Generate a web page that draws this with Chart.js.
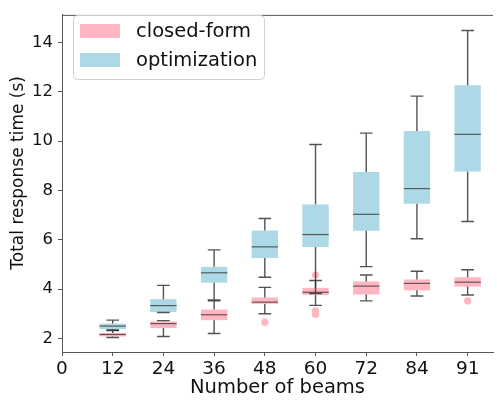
<!DOCTYPE html>
<html>
<head>
<meta charset="utf-8">
<script src="https://cdn.jsdelivr.net/npm/chart.js@4.4.1/dist/chart.umd.min.js"></script>
<style>
  html, body { margin: 0; padding: 0; background: #ffffff; }
  #wrap { width: 497px; height: 403px; }
</style>
</head>
<body>
<div id="wrap"><canvas id="myChart" width="497" height="403"></canvas></div>
<script>
// x tick labels (position 0 is the empty origin), and the beam counts
const xLabels = ["0", "12", "24", "36", "48", "60", "72", "84", "91"];
const beams = [12, 24, 36, 48, 60, 72, 84, 91];

// closed-form: whisker ends, quartiles, median
const cfLow = [2.04, 2.08, 2.2, 3.0, 3.34, 3.52, 3.72, 3.76];
const cfQ1 = [2.08, 2.42, 2.74, 3.4, 3.76, 3.78, 3.95, 4.1];
const cfMed = [2.16, 2.6, 2.96, 3.47, 3.87, 4.12, 4.23, 4.28];
const cfQ3 = [2.22, 2.69, 3.17, 3.66, 4.05, 4.31, 4.39, 4.48];
const cfHigh = [2.32, 2.72, 3.52, 4.07, 4.35, 4.57, 4.72, 4.78];
const cfOutBeam = [48, 60, 60, 60, 91];
const cfOutVal = [2.66, 4.57, 3.12, 2.97, 3.52];

// optimization
const opLow = [2.34, 3.05, 3.56, 4.48, 3.82, 4.91, 6.04, 6.74];
const opQ1 = [2.38, 3.07, 4.26, 5.26, 5.7, 6.36, 7.46, 8.76];
const opMed = [2.5, 3.33, 4.66, 5.71, 6.21, 7.03, 8.07, 10.27];
const opQ3 = [2.6, 3.59, 4.9, 6.37, 7.43, 8.74, 10.41, 12.26];
const opHigh = [2.74, 4.15, 5.59, 6.86, 9.86, 10.32, 11.82, 14.48];

const pink = "#ffb6c1";
const blue = "#add8e6";
const FONT = "'DejaVu Sans', sans-serif";
const yTitle = "Total response time (s)";

function pos(b) {
  return beams.indexOf(b) + 1;
}

function boxData(q1, q3) {
  return beams.map(function (b, i) {
    return { x: pos(b), y: [q1[i], q3[i]] };
  });
}

const series = [
  { low: cfLow, med: cfMed, q1: cfQ1, q3: cfQ3, high: cfHigh },
  { low: opLow, med: opMed, q1: opQ1, q3: opQ3, high: opHigh },
];

// whiskers, caps and medians, placed with the chart's own scales
const whiskerPlugin = {
  id: "whiskers",
  afterDatasetsDraw(chart) {
    const ctx = chart.ctx;
    const xs = chart.scales.x;
    const ys = chart.scales.y;
    ctx.save();
    series.forEach(function (s) {
      beams.forEach(function (b, i) {
        const p = pos(b);
        const cx = xs.getPixelForValue(p);
        const capL = xs.getPixelForValue(p - 0.125);
        const capR = xs.getPixelForValue(p + 0.125);
        const boxL = xs.getPixelForValue(p - 0.26);
        const boxR = xs.getPixelForValue(p + 0.26);
        ctx.strokeStyle = "rgba(40,40,40,0.8)";
        ctx.lineWidth = 1.4;
        ctx.beginPath();
        ctx.moveTo(cx, ys.getPixelForValue(s.low[i]));
        ctx.lineTo(cx, ys.getPixelForValue(s.q1[i]));
        ctx.moveTo(cx, ys.getPixelForValue(s.q3[i]));
        ctx.lineTo(cx, ys.getPixelForValue(s.high[i]));
        ctx.moveTo(capL, ys.getPixelForValue(s.low[i]));
        ctx.lineTo(capR, ys.getPixelForValue(s.low[i]));
        ctx.moveTo(capL, ys.getPixelForValue(s.high[i]));
        ctx.lineTo(capR, ys.getPixelForValue(s.high[i]));
        ctx.stroke();
        ctx.strokeStyle = "rgba(60,60,60,0.8)";
        ctx.lineWidth = 1.2;
        ctx.beginPath();
        ctx.moveTo(boxL, ys.getPixelForValue(s.med[i]));
        ctx.lineTo(boxR, ys.getPixelForValue(s.med[i]));
        ctx.stroke();
      });
    });
    ctx.restore();
  },
};

// top border of the axes box, the y title and the legend in the upper left corner
const framePlugin = {
  id: "frame",
  afterDraw(chart) {
    const ctx = chart.ctx;
    const a = chart.chartArea;
    ctx.save();
    ctx.strokeStyle = "#555";
    ctx.lineWidth = 1;
    ctx.beginPath();
    ctx.moveTo(a.left, a.top + 0.5);
    ctx.lineTo(a.right, a.top + 0.5);
    ctx.stroke();

    // y axis title, sits a bit above the middle like in the original
    ctx.save();
    ctx.translate(19, a.top + 158);
    ctx.rotate(-Math.PI / 2);
    ctx.font = "17px " + FONT;
    ctx.fillStyle = "#111";
    ctx.textAlign = "center";
    ctx.textBaseline = "middle";
    ctx.fillText(yTitle, 0, 0);
    ctx.restore();

    const lx = a.left + 11, ly = 15, lw = 191, lh = 64;
    ctx.fillStyle = "rgba(255,255,255,0.8)";
    ctx.strokeStyle = "#d0d0d0";
    ctx.beginPath();
    ctx.roundRect(lx + 0.5, ly + 0.5, lw, lh, 4);
    ctx.fill();
    ctx.stroke();

    const items = chart.data.datasets.slice(0, 2);
    ctx.font = "19.5px " + FONT;
    ctx.textBaseline = "middle";
    items.forEach(function (d, k) {
      const cy = 31 + k * 29;
      ctx.fillStyle = d.backgroundColor;
      ctx.fillRect(lx + 7, cy - 7, 40, 14);
      ctx.fillStyle = "#111";
      ctx.fillText(d.label, lx + 63, cy + 1);
    });
    ctx.restore();
  },
};

const data = {
  datasets: [
    {
      label: "closed-form",
      data: boxData(cfQ1, cfQ3),
      backgroundColor: pink,
      borderWidth: 0,
      grouped: false,
      barPercentage: 0.52,
      categoryPercentage: 1,
      order: 1,
    },
    {
      label: "optimization",
      data: boxData(opQ1, opQ3),
      backgroundColor: blue,
      borderWidth: 0,
      grouped: false,
      barPercentage: 0.52,
      categoryPercentage: 1,
      order: 0,
    },
    {
      type: "scatter",
      label: "closed-form outliers",
      data: cfOutBeam.map(function (b, i) {
        return { x: pos(b), y: cfOutVal[i] };
      }),
      backgroundColor: pink,
      borderWidth: 0,
      pointRadius: 3.6,
      order: 2,
    },
  ],
};

const config = {
  type: "bar",
  data,
  options: {
    responsive: false,
    animation: false,
    devicePixelRatio: 1,
    layout: { padding: { top: 5, right: 0, left: 0, bottom: 0 } },
    plugins: {
      legend: { display: false },
      tooltip: { enabled: false },
    },
    scales: {
      x: {
        type: "linear",
        min: 0,
        max: 8.5,
        offset: false,
        grid: { drawOnChartArea: false, offset: false, tickLength: 4, color: "#555" },
        border: { color: "#555" },
        ticks: {
          stepSize: 1,
          includeBounds: false,
          color: "#111",
          padding: 2,
          maxRotation: 0,
          font: { size: 18.5, family: FONT },
          callback: function (v) {
            return xLabels[v];
          },
        },
        title: {
          display: true,
          text: "Number of beams",
          color: "#111",
          padding: { top: 0, bottom: 3 },
          font: { size: 19.5, family: FONT },
        },
        afterFit: function (s) {
          s.height = 51;
        },
      },
      y: {
        min: 1.45,
        max: 15.11,
        beginAtZero: false,
        grid: { drawOnChartArea: false, tickLength: 4, color: "#555" },
        border: { color: "#555" },
        ticks: {
          stepSize: 2,
          includeBounds: false,
          color: "#111",
          padding: 5,
          font: { size: 16.5, family: FONT },
        },
        title: { display: false },
        afterFit: function (s) {
          s.width = 62;
        },
      },
    },
  },
  plugins: [whiskerPlugin, framePlugin],
};

window.myChart = new Chart(document.getElementById("myChart"), config);
</script>
</body>
</html>
